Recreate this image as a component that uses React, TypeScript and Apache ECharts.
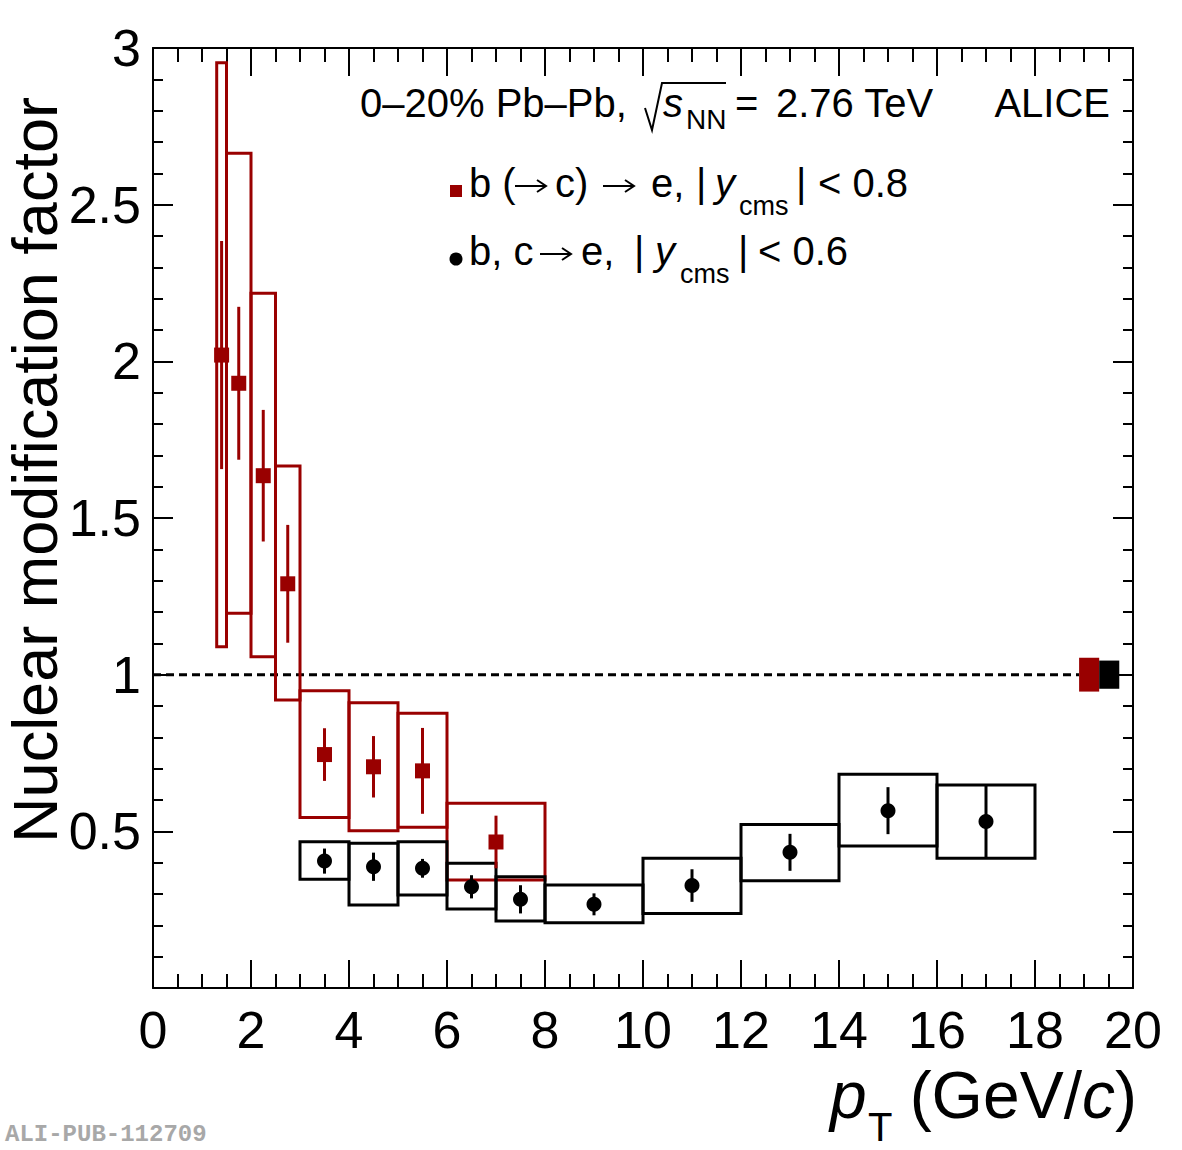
import React, { useEffect, useRef } from 'react';
import * as echarts from 'echarts';

// Beauty-decay electrons, b (→ c) → e, |y_cms| < 0.8
const beautyLowEdge = [1.3, 1.5, 2.0, 2.5, 3, 4, 5, 6];
const beautyHighEdge = [1.5, 2.0, 2.5, 3.0, 4, 5, 6, 8];
const beautyPt = [1.4, 1.75, 2.25, 2.75, 3.5, 4.5, 5.5, 7.0];
const beautyRaa = [2.02, 1.93, 1.635, 1.29, 0.745, 0.706, 0.693, 0.466];
const beautyStat = [0.364, 0.244, 0.21, 0.188, 0.084, 0.098, 0.137, 0.084];
const beautySysUp = [0.933, 0.734, 0.582, 0.376, 0.204, 0.204, 0.184, 0.124];
const beautySysDown = [0.931, 0.734, 0.578, 0.371, 0.201, 0.204, 0.18, 0.121];

// Heavy-flavour electrons, b, c → e, |y_cms| < 0.6
const hfeLowEdge = [3, 4, 5, 6, 7, 8, 10, 12, 14, 16];
const hfeHighEdge = [4, 5, 6, 7, 8, 10, 12, 14, 16, 18];
const hfePt = [3.5, 4.5, 5.5, 6.5, 7.5, 9, 11, 13, 15, 17];
const hfeRaa = [0.405, 0.387, 0.382, 0.323, 0.283, 0.267, 0.327, 0.433, 0.566, 0.531];
const hfeStat = [0.04, 0.045, 0.03, 0.037, 0.045, 0.035, 0.052, 0.059, 0.075, 0.115];
const hfeSysUp = [0.062, 0.075, 0.085, 0.075, 0.072, 0.062, 0.087, 0.089, 0.116, 0.117];
const hfeSysDown = [0.058, 0.122, 0.085, 0.071, 0.069, 0.059, 0.089, 0.091, 0.113, 0.117];

// Normalisation uncertainties, drawn around unity at the right edge
const normLowEdge = [18.9, 19.31];
const normHighEdge = [19.31, 19.72];
const normErr = [0.054, 0.045];

// Reference line at R_AA = 1
const unityLine = [[0, 1], [18.9, 1]];

const RED = '#990000';
const BLACK = '#000000';
const SANS = '"Liberation Sans", Arial, Helvetica, sans-serif';

// central baseline offset of Liberation Sans (fraction of the font size)
const CENTRAL = 0.3465;

function label(text: string, x: number, baseline: number, size: number, extra: any = {}) {
  return {
    type: 'text',
    x,
    y: baseline - CENTRAL * size,
    silent: true,
    style: {
      text,
      fontFamily: SANS,
      fontSize: size,
      fill: '#000',
      align: 'left',
      verticalAlign: 'middle',
      ...extra,
    },
  };
}

// long TLatex-style arrow: shaft plus open head
function arrow(x: number, baseline: number) {
  const y = baseline - 11;
  const len = 31;
  return {
    type: 'group',
    silent: true,
    children: [
      { type: 'line', shape: { x1: x, y1: y, x2: x + len, y2: y }, style: { stroke: '#000', lineWidth: 2 } },
      {
        type: 'polyline',
        shape: { points: [[x + len - 9, y - 6], [x + len, y], [x + len - 9, y + 6]] },
        style: { stroke: '#000', lineWidth: 2, fill: 'none' },
      },
    ],
  };
}

function boxSeries(lo: number[], hi: number[], center: number[], up: number[], down: number[], color: string, z: number) {
  return {
    type: 'custom',
    z,
    data: lo.map((l, i) => [l, hi[i], center[i] - down[i], center[i] + up[i]]),
    encode: { x: [0, 1], y: [2, 3] },
    renderItem: (_params: any, api: any) => {
      const a = api.coord([api.value(0), api.value(3)]);
      const b = api.coord([api.value(1), api.value(2)]);
      return {
        type: 'rect',
        shape: { x: a[0], y: a[1], width: b[0] - a[0], height: b[1] - a[1] },
        style: { fill: 'none', stroke: color, lineWidth: 3 },
      };
    },
  };
}

function filledBoxSeries(lo: number[], hi: number[], err: number[], colors: string[], z: number) {
  return {
    type: 'custom',
    z,
    data: lo.map((l, i) => [l, hi[i], 1 - err[i], 1 + err[i], i]),
    encode: { x: [0, 1], y: [2, 3] },
    renderItem: (_params: any, api: any) => {
      const a = api.coord([api.value(0), api.value(3)]);
      const b = api.coord([api.value(1), api.value(2)]);
      return {
        type: 'rect',
        shape: { x: a[0], y: a[1], width: b[0] - a[0], height: b[1] - a[1] },
        style: { fill: colors[api.value(4)], stroke: 'none' },
      };
    },
  };
}

function errorSeries(pt: number[], val: number[], stat: number[], color: string, z: number) {
  return {
    type: 'custom',
    z,
    data: pt.map((p, i) => [p, val[i] - stat[i], val[i] + stat[i]]),
    encode: { x: 0, y: [1, 2] },
    renderItem: (_params: any, api: any) => {
      const a = api.coord([api.value(0), api.value(1)]);
      const b = api.coord([api.value(0), api.value(2)]);
      return {
        type: 'line',
        shape: { x1: a[0], y1: a[1], x2: b[0], y2: b[1] },
        style: { stroke: color, lineWidth: 3 },
      };
    },
  };
}

export default function App() {
  const ref = useRef<HTMLDivElement>(null);

  useEffect(() => {
    document.body.style.margin = '0';
    if (!ref.current) return;
    const chart = echarts.init(ref.current, null, { renderer: 'svg' });

    const axisLine = { show: true, onZero: false, lineStyle: { color: '#000', width: 2 } };

    const xCommon = {
      type: 'value',
      min: 0,
      max: 20,
      interval: 2,
      axisLine,
      splitLine: { show: false },
      axisTick: { show: true, inside: true, length: 28, lineStyle: { color: '#000', width: 2 } },
      minorTick: { show: true, splitNumber: 4, length: 14, lineStyle: { color: '#000', width: 2 } },
    };
    const yCommon = {
      type: 'value',
      min: 0,
      max: 3,
      interval: 0.5,
      axisLine,
      splitLine: { show: false },
      axisTick: { show: true, inside: true, length: 20, lineStyle: { color: '#000', width: 2 } },
      minorTick: { show: true, splitNumber: 5, length: 10, lineStyle: { color: '#000', width: 2 } },
    };

    const option: any = {
      animation: false,
      backgroundColor: '#fff',
      grid: { left: 153, right: 49, top: 48, bottom: 162 },
      xAxis: [
        {
          ...xCommon,
          position: 'bottom',
          axisLabel: { show: true, fontFamily: SANS, fontSize: 52, color: '#000', margin: 16 },
        },
        { ...xCommon, position: 'top', axisLabel: { show: false } },
      ],
      yAxis: [
        {
          ...yCommon,
          position: 'left',
          axisLabel: {
            show: true,
            fontFamily: SANS,
            fontSize: 52,
            color: '#000',
            margin: 12,
            formatter: (v: number) => (v === 0 ? '' : String(v)),
          },
        },
        { ...yCommon, position: 'right', axisLabel: { show: false } },
      ],
      series: [
        {
          type: 'line',
          z: 1,
          data: unityLine,
          symbol: 'none',
          silent: true,
          lineStyle: { color: '#000', width: 3, type: [8, 5] },
        },
        boxSeries(beautyLowEdge, beautyHighEdge, beautyRaa, beautySysUp, beautySysDown, RED, 2),
        boxSeries(hfeLowEdge, hfeHighEdge, hfeRaa, hfeSysUp, hfeSysDown, BLACK, 3),
        errorSeries(beautyPt, beautyRaa, beautyStat, RED, 4),
        errorSeries(hfePt, hfeRaa, hfeStat, BLACK, 4),
        {
          type: 'scatter',
          z: 5,
          data: beautyPt.map((p, i) => [p, beautyRaa[i]]),
          symbol: 'rect',
          symbolSize: 15,
          itemStyle: { color: RED, opacity: 1 },
        },
        {
          type: 'scatter',
          z: 5,
          data: hfePt.map((p, i) => [p, hfeRaa[i]]),
          symbol: 'circle',
          symbolSize: 15,
          itemStyle: { color: BLACK, opacity: 1 },
        },
        filledBoxSeries(normLowEdge, normHighEdge, normErr, [RED, BLACK], 6),
      ],
      graphic: [
        // header
        label('0–20% Pb–Pb,', 360, 117, 40),
        {
          type: 'polyline',
          silent: true,
          shape: { points: [[645, 108], [652, 130], [662, 83], [726, 83]] },
          style: { stroke: '#000', lineWidth: 2, fill: 'none' },
        },
        label('s', 663, 117, 40, { fontStyle: 'italic' }),
        label('NN', 686, 129, 28),
        label('=', 735, 117, 40),
        label('2.76 TeV', 776, 117, 40),
        label('ALICE', 1110, 117, 40, { align: 'right' }),

        // legend: beauty
        { type: 'rect', silent: true, shape: { x: 450, y: 185, width: 12, height: 12 }, style: { fill: RED } },
        label('b (', 469, 197, 40),
        arrow(515, 197),
        label('c)', 555, 197, 40),
        arrow(603, 197),
        label('e,', 651, 197, 40),
        label('|', 696, 197, 40),
        label('y', 715, 197, 40, { fontStyle: 'italic' }),
        label('cms', 739, 215, 27),
        label('|', 796, 197, 40),
        label('< 0.8', 818, 197, 40),

        // legend: heavy flavour
        { type: 'circle', silent: true, shape: { cx: 456, cy: 259, r: 6.5 }, style: { fill: BLACK } },
        label('b, c', 469, 265, 40),
        arrow(540, 265),
        label('e,', 581, 265, 40),
        label('|', 634, 265, 40),
        label('y', 655, 265, 40, { fontStyle: 'italic' }),
        label('cms', 680, 283, 27),
        label('|', 738, 265, 40),
        label('< 0.6', 758, 265, 40),

        // axis titles
        {
          type: 'text',
          x: 35,
          y: 470,
          rotation: Math.PI / 2,
          silent: true,
          style: {
            text: 'Nuclear modification factor',
            fontFamily: SANS,
            fontSize: 63,
            fill: '#000',
            align: 'center',
            verticalAlign: 'middle',
          },
        },
        label('p', 830, 1118, 66, { fontStyle: 'italic' }),
        label('T', 868, 1141, 40),
        {
          type: 'text',
          x: 1137,
          y: 1118 - CENTRAL * 66,
          silent: true,
          style: {
            text: '(GeV/{i|c})',
            fontFamily: SANS,
            fontSize: 66,
            fill: '#000',
            align: 'right',
            verticalAlign: 'middle',
            rich: { i: { fontFamily: SANS, fontSize: 66, fontStyle: 'italic', fill: '#000' } },
          },
        },

        // publication id
        {
          type: 'text',
          x: 5,
          y: 1141 - 0.2665 * 24,
          silent: true,
          style: {
            text: 'ALI-PUB-112709',
            fontFamily: '"Liberation Mono", "DejaVu Sans Mono", monospace',
            fontWeight: 'bold',
            fontSize: 24,
            fill: '#a8a8a8',
            align: 'left',
            verticalAlign: 'middle',
          },
        },
      ],
    };

    chart.setOption(option);
    return () => chart.dispose();
  }, []);

  return <div ref={ref} style={{ width: 1182, height: 1150 }} />;
}
